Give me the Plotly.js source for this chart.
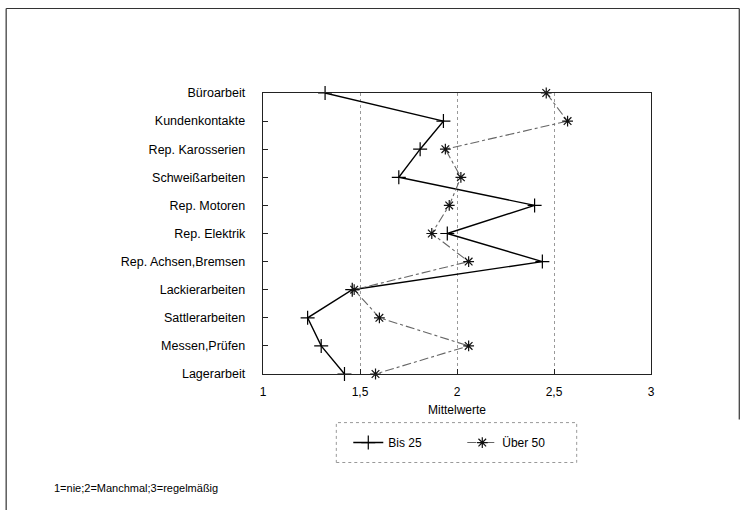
<!DOCTYPE html>
<html>
<head>
<meta charset="utf-8">
<script src="https://cdn.plot.ly/plotly-3.0.1.min.js"></script>
<style>html,body{margin:0;padding:0;background:#fff;}#chart{width:742px;height:510px;}</style>
</head>
<body>
<div id="chart"></div>
<script>
const categories = ["Büroarbeit","Kundenkontakte","Rep. Karosserien","Schweißarbeiten","Rep. Motoren","Rep. Elektrik","Rep. Achsen,Bremsen","Lackierarbeiten","Sattlerarbeiten","Messen,Prüfen","Lagerarbeit"];
const bis25 = [1.32, 1.93, 1.81, 1.70, 2.40, 1.95, 2.44, 1.46, 1.23, 1.30, 1.42];
const ueber50 = [2.46, 2.57, 1.94, 2.02, 1.96, 1.87, 2.06, 1.47, 1.60, 2.06, 1.58];
const xTicks = [1, 1.5, 2, 2.5, 3];
const xTickText = ["1", "1,5", "2", "2,5", "3"];

const W = 742, H = 510;
const M = {l: 262.5, r: 90.5, t: 92.7, b: 135.7};
const pw = W - M.l - M.r, ph = H - M.t - M.b;
const px = v => (v - M.l) / pw;
const py = v => (H - M.b - v) / ph;

const traces = [
  {
    x: bis25, y: categories, name: "Bis 25", type: "scatter", mode: "lines+markers",
    line: {color: "#000", width: 1.4},
    marker: {symbol: "cross-thin", size: 10, line: {color: "#000", width: 1.2}, color: "#000"},
    cliponaxis: false
  },
  {
    x: ueber50, y: categories, name: "Über 50", type: "scatter", mode: "lines+markers",
    line: {color: "#666", width: 1.1, dash: "dashdot"},
    marker: {symbol: "asterisk-open", size: 9, line: {color: "#111", width: 1.2}, color: "#111"},
    cliponaxis: false
  }
];

const layout = {
  width: W, height: H,
  margin: M,
  paper_bgcolor: "#fff", plot_bgcolor: "#fff",
  separators: ",.",
  font: {family: "Liberation Sans, Arial, sans-serif", size: 12, color: "#000"},
  showlegend: true,
  xaxis: {
    range: [1, 3], tickvals: xTicks, ticktext: xTickText,
    showgrid: true, gridcolor: "#999", griddash: "dot", gridwidth: 1,
    zeroline: false, showline: true, linecolor: "#222", linewidth: 1.3, mirror: true,
    ticks: "inside", ticklen: 5, tickcolor: "#222",
    tickfont: {size: 12, color: "#000"},
    ticklabelstandoff: 6,
    title: {text: "Mittelwerte", font: {size: 12, color: "#000"}, standoff: 8},
    automargin: false, fixedrange: true
  },
  yaxis: {
    type: "category", categoryorder: "array", categoryarray: categories,
    range: [10, 0],
    showgrid: false, zeroline: false, showline: true, linecolor: "#222", linewidth: 1.3, mirror: true,
    ticks: "inside", ticklen: 5, tickcolor: "#222",
    tickfont: {size: 12.5, color: "#000"},
    ticklabelstandoff: 14,
    automargin: false, fixedrange: true
  },
  legend: {
    orientation: "h", x: px(348), xanchor: "left", y: py(443), yanchor: "middle",
    bgcolor: "rgba(0,0,0,0)", borderwidth: 0,
    font: {size: 12, color: "#000"}, entrywidth: 69, entrywidthmode: "pixels"
  },
  shapes: [
    {type: "rect", xref: "paper", yref: "paper", x0: px(336), x1: px(577), y0: py(463), y1: py(423),
     line: {color: "#999", width: 1, dash: "dot"}},
    {type: "line", xref: "paper", yref: "paper", x0: px(5), x1: px(740), y0: py(8), y1: py(8), line: {color: "#333", width: 1.2}},
    {type: "line", xref: "paper", yref: "paper", x0: px(5), x1: px(5), y0: py(8), y1: py(512), line: {color: "#333", width: 1.2}},
    {type: "line", xref: "paper", yref: "paper", x0: px(740), x1: px(740), y0: py(8), y1: py(420), line: {color: "#333", width: 1.2}}
  ],
  annotations: [
    {text: "1=nie;2=Manchmal;3=regelmäßig", xref: "paper", yref: "paper", x: px(51), y: py(489),
     xanchor: "left", yanchor: "middle", showarrow: false, font: {size: 11, color: "#000"}}
  ]
};

Plotly.newPlot("chart", traces, layout, {staticPlot: true, displayModeBar: false});
</script>
</body>
</html>
